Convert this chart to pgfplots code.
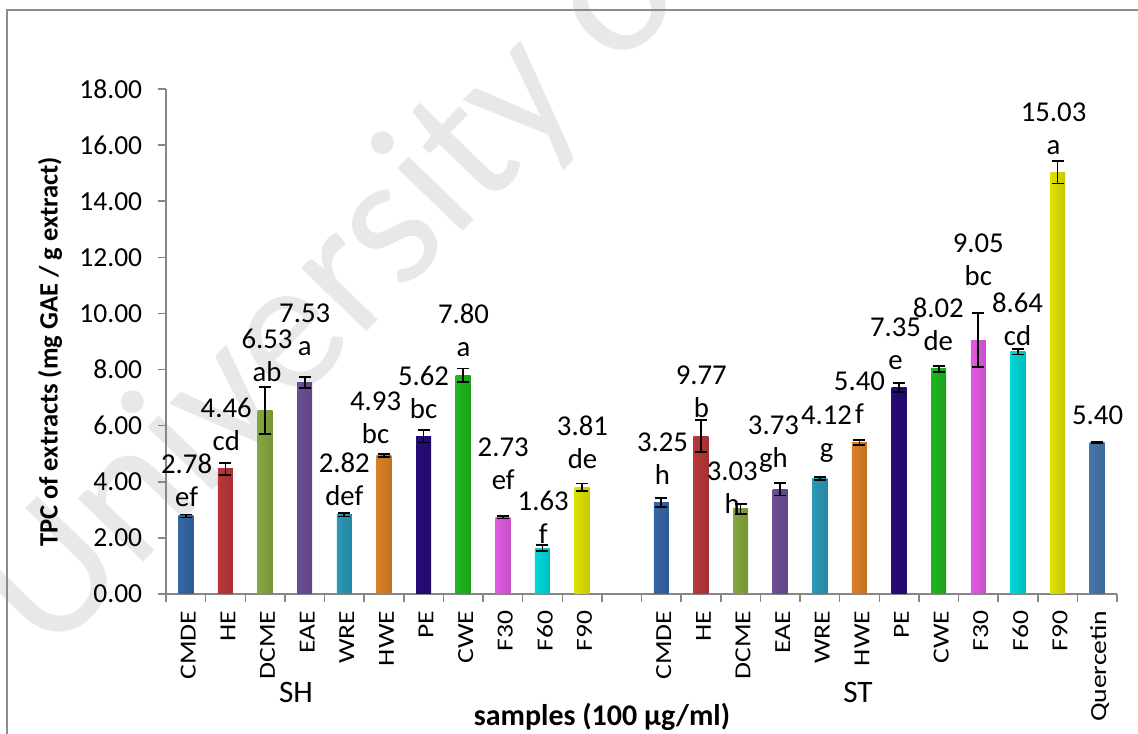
\documentclass[border=0pt]{standalone}
\usepackage{graphicx}
\usepackage{pgfplots}
\pgfplotsset{compat=1.18}
\usepackage{fontspec}
\setmainfont{Carlito}
\definecolor{cA}{HTML}{3C74BC}
\definecolor{cB}{HTML}{D23F41}
\definecolor{cC}{HTML}{96BE46}
\definecolor{cD}{HTML}{7A58AA}
\definecolor{cE}{HTML}{30AED0}
\definecolor{cF}{HTML}{F8902C}
\definecolor{cG}{HTML}{2C0C88}
\definecolor{cH}{HTML}{22D022}
\definecolor{cI}{HTML}{FF66FF}
\definecolor{cJ}{HTML}{00F4F4}
\definecolor{cK}{HTML}{FFFF00}
\definecolor{cL}{HTML}{4F84C2}
\definecolor{axgray}{HTML}{868686}
\newcommand{\xl}[1]{\scalebox{1.2}[1]{#1}}
\newcommand{\mybar}[4]{%
  \addplot[ybar, bar width=6pt, bar shift=0pt, draw=none,
    left color=#4!88!black, middle color=#4, right color=#4!78!black,
    error bars/.cd, y dir=both, y explicit,
    error bar style={black, line width=0.7pt},
    error mark options={black, rotate=90, mark size=2.4pt, line width=0.7pt}]
    coordinates {(#1,#2) +- (0,#3)};}
\newcommand{\lab}[3]{\node[align=center, font=\fontsize{11.5}{13.2}\selectfont, inner sep=0pt] at (axis cs:#1,#2) {#3};}
\begin{document}
\begin{tikzpicture}
\useasboundingbox (0,0) rectangle (455.2pt,293.6pt);
\begin{scope}
\clip (0,0) rectangle (455.2pt,293.6pt);
\node[rotate=46, text=black!9, font=\fontsize{76}{76}\selectfont, anchor=center] at (141pt,184pt) {University of};
\end{scope}
\draw[color=black!45, line width=0.8pt] (2.8pt,-2pt) -- (2.8pt,289.6pt) -- (460pt,289.6pt);
\begin{axis}[
  at={(66.4pt,56pt)}, anchor=south west, scale only axis,
  width=380.4pt, height=202pt,
  xmin=0, xmax=24, ymin=0, ymax=18,
  axis lines*=left,
  axis line style={color=axgray, line width=0.6pt},
  tick align=outside,
  major tick length=3.2pt, minor tick length=3.2pt,
  tick style={color=axgray, line width=0.6pt},
  major x tick style={draw=none},
  xtick={0.5,1.5,...,23.5},
  minor xtick={0,1,...,24},
  xticklabels={\xl{CMDE},\xl{HE},\xl{DCME},\xl{EAE},\xl{WRE},\xl{HWE},\xl{PE},\xl{CWE},\xl{F30},\xl{F60},\xl{F90},{},\xl{CMDE},\xl{HE},\xl{DCME},\xl{EAE},\xl{WRE},\xl{HWE},\xl{PE},\xl{CWE},\xl{F30},\xl{F60},\xl{F90},\xl{Quercetin}},
  xticklabel style={rotate=90, anchor=east, font=\fontsize{9.2}{10}\selectfont, yshift=-1pt},
  ytick={0,2,...,18},
  /pgf/number format/assume math mode=true,
  yticklabel style={font=\fontsize{11}{12}\selectfont, xshift=-2.8pt, /pgf/number format/fixed, /pgf/number format/fixed zerofill, /pgf/number format/precision=2},
  clip=false,
]
\mybar{0.5}{2.78}{0.05}{cA}
\mybar{1.5}{4.46}{0.22}{cB}
\mybar{2.5}{6.53}{0.84}{cC}
\mybar{3.5}{7.53}{0.20}{cD}
\mybar{4.5}{2.82}{0.06}{cE}
\mybar{5.5}{4.93}{0.05}{cF}
\mybar{6.5}{5.62}{0.22}{cG}
\mybar{7.5}{7.80}{0.24}{cH}
\mybar{8.5}{2.73}{0.04}{cI}
\mybar{9.5}{1.63}{0.11}{cJ}
\mybar{10.5}{3.81}{0.13}{cK}
\mybar{12.5}{3.25}{0.16}{cA}
\mybar{13.5}{5.62}{0.57}{cB}
\mybar{14.5}{3.03}{0.18}{cC}
\mybar{15.5}{3.73}{0.22}{cD}
\mybar{16.5}{4.12}{0.05}{cE}
\mybar{17.5}{5.40}{0.10}{cF}
\mybar{18.5}{7.35}{0.16}{cG}
\mybar{19.5}{8.02}{0.10}{cH}
\mybar{20.5}{9.05}{0.96}{cI}
\mybar{21.5}{8.64}{0.10}{cJ}
\mybar{22.5}{15.03}{0.40}{cK}
\mybar{23.5}{5.40}{0.03}{cL}
\lab{0.52}{4.05}{2.78\\ef}
\lab{1.52}{6.06}{4.46\\cd}
\lab{2.55}{8.49}{6.53\\ab}
\lab{3.50}{9.41}{7.53\\a}
\lab{4.50}{4.08}{2.82\\def}
\lab{5.29}{6.27}{4.93\\bc}
\lab{6.50}{7.20}{5.62\\bc}
\lab{7.51}{9.41}{7.80\\a}
\lab{8.51}{4.64}{2.73\\ef}
\lab{9.52}{2.73}{1.63\\f}
\lab{10.51}{5.40}{3.81\\de}
\lab{12.53}{4.83}{3.25\\h}
\lab{13.51}{7.20}{9.77\\b}
\lab{14.29}{3.79}{3.03\\h}
\lab{15.33}{5.33}{3.73\\gh}
\lab{16.67}{5.70}{4.12\\g}
\lab{17.50}{7.00}{5.40\\f}
\lab{18.41}{8.93}{7.35\\e}
\lab{19.49}{9.60}{8.02\\de}
\lab{20.50}{11.90}{9.05\\bc}
\lab{21.49}{9.80}{8.64\\cd}
\lab{22.40}{16.57}{15.03\\a}
\lab{23.51}{6.38}{5.40}
\end{axis}
\node[font=\fontsize{12.5}{14}\selectfont] at (118.4pt,16.8pt) {SH};
\node[font=\fontsize{12.5}{14}\selectfont] at (343.2pt,16.8pt) {ST};
\node[font=\bfseries\fontsize{12}{14}\selectfont] at (240.8pt,6.8pt) {samples (100 µg/ml)};
\node[rotate=90, font=\bfseries\fontsize{10.6}{12}\selectfont] at (20pt,152.8pt) {TPC of extracts (mg GAE / g extract)};
\end{tikzpicture}
\end{document}
